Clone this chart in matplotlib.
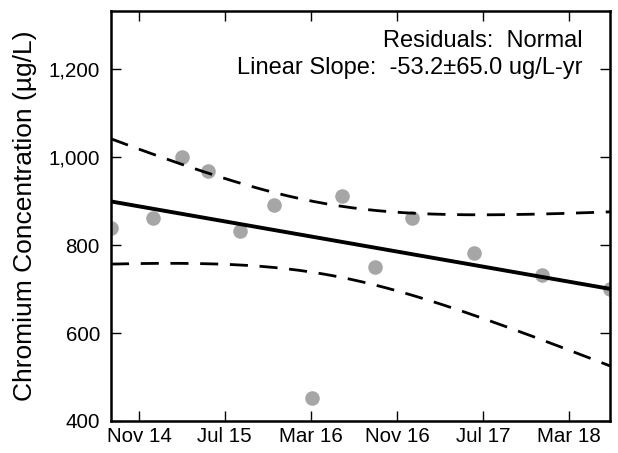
import numpy as np
import pandas as pd
import matplotlib
matplotlib.use("Agg")
import matplotlib.pyplot as plt
import matplotlib.dates as mdates

plt.rcParams['font.family'] = ['Liberation Sans', 'DejaVu Sans']

# Data
sample_dates = ["2014-08-14", "2014-12-11", "2015-03-03", "2015-05-15", "2015-08-15",
                "2015-11-18", "2016-03-04", "2016-05-28", "2016-08-29", "2016-12-12",
                "2017-06-05", "2017-12-14", "2018-06-25"]
chromium = [840, 861, 1000, 970, 832, 891, 452, 911, 750, 861, 782, 732, 700]
tick_dates = ["2014-11-01", "2015-07-01", "2016-03-01", "2016-11-01", "2017-07-01", "2018-03-01"]
tick_labels = ["Nov 14", "Jul 15", "Mar 16", "Nov 16", "Jul 17", "Mar 18"]
y_ticks = [400, 600, 800, 1000, 1200]
y_tick_labels = ["400", "600", "800", "1,000", "1,200"]
annot_residuals = "Residuals:  Normal"
annot_slope = "Linear Slope:  -53.2\u00b165.0 ug/L-yr"
y_label = "Chromium Concentration (\u00b5g/L)"

dates = pd.to_datetime(sample_dates)
xnum = mdates.date2num(dates)
y = np.array(chromium, dtype=float)

# Linear regression with 95% confidence band on the mean
t_years = (xnum - xnum.mean()) / 365.25
n = len(y)
slope, intercept = np.polyfit(t_years, y, 1)
resid = y - (slope * t_years + intercept)
s = np.sqrt(np.sum(resid ** 2) / (n - 2))
sxx = np.sum(t_years ** 2)
t_crit = 2.201  # t(0.975, 11)
xf = np.linspace(xnum.min(), xnum.max(), 200)
tf = (xf - xnum.mean()) / 365.25
yf = slope * tf + intercept
hw = t_crit * s * np.sqrt(1.0 / n + tf ** 2 / sxx)

fig = plt.figure(figsize=(6.18, 4.53), dpi=100)
ax = fig.add_axes([111 / 618, 1 - 421 / 453, 499 / 618, 410 / 453])

ax.plot(dates, y, 'o', color='#a6a6a6', markersize=10.5, markeredgewidth=0, zorder=2)
ax.plot(mdates.num2date(xf), yf, '-', color='black', lw=2.8, zorder=3)
ax.plot(mdates.num2date(xf), yf + hw, '--', color='black', lw=2.0, dashes=(6.5, 4.2), zorder=3)
ax.plot(mdates.num2date(xf), yf - hw, '--', color='black', lw=2.0, dashes=(6.5, 4.2), zorder=3)

ax.set_xlim(mdates.num2date(xnum.min()), mdates.num2date(xnum.max()))
ax.set_ylim(400, 1333)
ax.set_xticks(pd.to_datetime(tick_dates))
ax.set_xticklabels(tick_labels)
ax.set_yticks(y_ticks)
ax.set_yticklabels(y_tick_labels)

ax.tick_params(direction='in', length=7, width=1, top=True, right=True,
               labelsize=14.8, colors='black')
ax.tick_params(axis='x', pad=4)
ax.tick_params(axis='y', pad=8)
for sp in ax.spines.values():
    sp.set_linewidth(1.8)

ax.set_ylabel(y_label, fontsize=19, labelpad=8)

ax.text(0.945, 0.912, annot_residuals, transform=ax.transAxes, ha='right',
        va='baseline', fontsize=17)
ax.text(0.945, 0.846, annot_slope, transform=ax.transAxes, ha='right',
        va='baseline', fontsize=17)

fig.savefig("out.png", dpi=100)
